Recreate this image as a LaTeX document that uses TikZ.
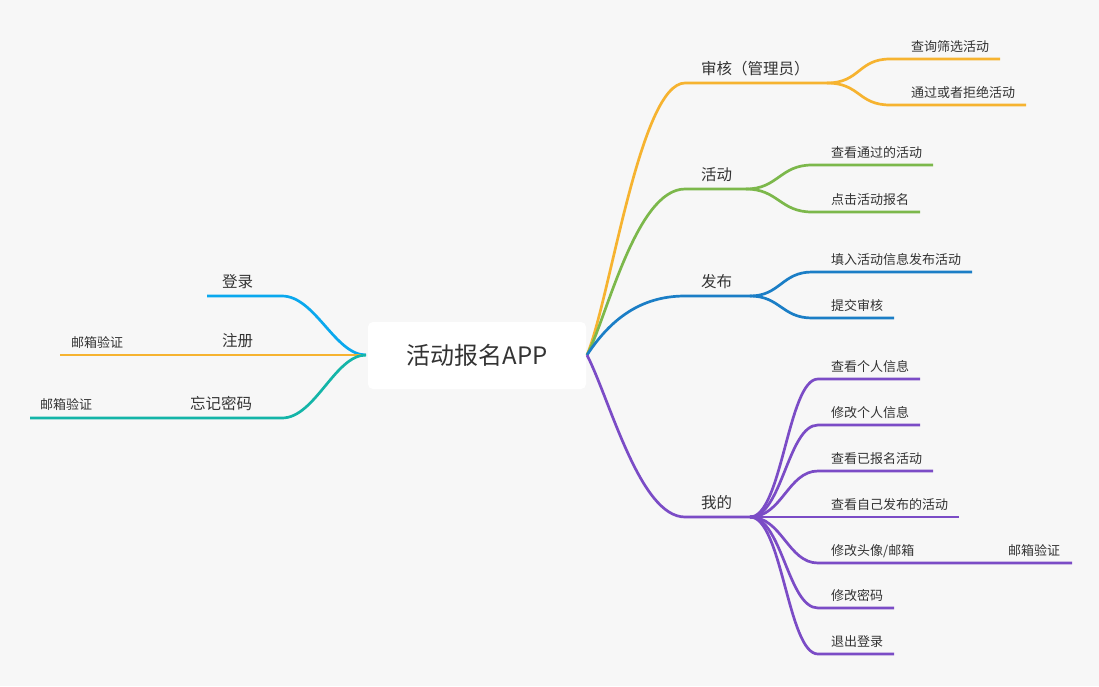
\documentclass[tikz,border=0pt]{standalone}
\usepackage{fontspec}
\setmainfont{Noto Sans CJK SC}
\definecolor{bgC}{HTML}{F7F7F7}
\definecolor{textC}{HTML}{333333}
\definecolor{orangeC}{HTML}{F6B330}
\definecolor{greenC}{HTML}{7CB84B}
\definecolor{blueC}{HTML}{1B7EC6}
\definecolor{purpleC}{HTML}{7B4CC6}
\definecolor{skyC}{HTML}{0AA8EE}
\definecolor{tealC}{HTML}{14B5A8}
\tikzset{
  branch/.style={line width=2.7pt},
  rootbox/.style={fill=white, rounded corners=5pt, minimum width=218pt, minimum height=67pt,
    text=textC, font=\fontsize{24}{28}\selectfont},
  topic/.style={anchor=base west, inner sep=0pt, text=textC, font=\fontsize{15.5}{18}\selectfont},
  subtopic/.style={anchor=base west, inner sep=0pt, text=textC, font=\fontsize{13}{15}\selectfont}
}
\begin{document}
\begin{tikzpicture}[x=1pt,y=-1pt]
\fill[bgC] (0,0) rectangle (1099,686);
\useasboundingbox (0,0) rectangle (1099,686);

\node[rootbox] (app) at (477,355.5) {活动报名APP};
\coordinate (appR) at (587,355);
\coordinate (appL) at (366,355);

% right: 审核
\coordinate (shS) at (685,83);
\coordinate (shE) at (827,83);
\node[topic] (sh) at (701,74) {审核（管理员）};
\draw[branch, orangeC] (appR) .. controls (610,300) and (640,83) .. (shS) -- (shE);
\coordinate (cxS) at (890,59);
\coordinate (cxE) at (1000,59);
\node[subtopic] (cx) at (911,51) {查询筛选活动};
\draw[branch, orangeC] (shE) .. controls (860,83) and (858,59) .. (cxS) -- (cxE);
\coordinate (tgS) at (890,105);
\coordinate (tgE) at (1026,105);
\node[subtopic] (tg) at (911,97) {通过或者拒绝活动};
\draw[branch, orangeC] (shE) .. controls (860,83) and (858,105) .. (tgS) -- (tgE);

% right: 活动
\coordinate (hdS) at (685,189);
\coordinate (hdE) at (746,189);
\node[topic] (hd) at (701,180) {活动};
\draw[branch, greenC] (appR) .. controls (606,320) and (636,189) .. (hdS) -- (hdE);
\coordinate (ckS) at (812,165);
\coordinate (ckE) at (933,165);
\node[subtopic] (ck) at (831,157) {查看通过的活动};
\draw[branch, greenC] (hdE) .. controls (778,189) and (780,165) .. (ckS) -- (ckE);
\coordinate (djS) at (812,212);
\coordinate (djE) at (920,212);
\node[subtopic] (dj) at (831,204) {点击活动报名};
\draw[branch, greenC] (hdE) .. controls (778,189) and (780,212) .. (djS) -- (djE);

% right: 发布
\coordinate (fbS) at (685,296);
\coordinate (fbE) at (750,296);
\node[topic] (fb) at (701,287) {发布};
\draw[branch, blueC] (appR) .. controls (610,320) and (640,296) .. (fbS) -- (fbE);
\coordinate (trS) at (812,272);
\coordinate (trE) at (972,272);
\node[subtopic] (tr) at (831,264) {填入活动信息发布活动};
\draw[branch, blueC] (fbE) .. controls (780,296) and (782,272) .. (trS) -- (trE);
\coordinate (tjS) at (812,318);
\coordinate (tjE) at (894,318);
\node[subtopic] (tj) at (831,310) {提交审核};
\draw[branch, blueC] (fbE) .. controls (780,296) and (782,318) .. (tjS) -- (tjE);

% right: 我的
\coordinate (wdS) at (685,517);
\coordinate (wdE) at (750,517);
\node[topic] (wd) at (701,508) {我的};
\draw[branch, purpleC] (appR) .. controls (610,400) and (640,517) .. (wdS) -- (wdE);
\foreach \yy/\xe/\txt in {379/920/查看个人信息, 425/920/修改个人信息, 471/933/查看已报名活动,
    517/959/查看自己发布的活动, 563/1072/{修改头像/邮箱}, 608/894/修改密码, 654/894/退出登录} {
  \coordinate (mS) at (818,\yy);
  \coordinate (mE) at (\xe,\yy);
  \node[subtopic] (m\yy) at (831,\yy-8) {\txt};
  \draw[branch, purpleC] (wdE) .. controls (782,517) and (788,\yy) .. (mS) -- (mE);
}
\node[subtopic] (yx3) at (1008,555) {邮箱验证};

% left: 登录
\coordinate (dlS) at (282,296);
\coordinate (dlE) at (207,296);
\node[topic] (dl) at (222,287) {登录};
\draw[branch, skyC] (appL) .. controls (335,355) and (315,296) .. (dlS) -- (dlE);

% left: 注册
\coordinate (zcE) at (178,355);
\coordinate (yx1E) at (60,355);
\node[topic] (zc) at (222,346) {注册};
\node[subtopic] (yx1) at (71,347) {邮箱验证};
\draw[branch, orangeC] (appL) -- (zcE) -- (yx1E);

% left: 忘记密码
\coordinate (wjS) at (282,418);
\coordinate (wjE) at (176,418);
\coordinate (yx2E) at (30,418);
\node[topic] (wj) at (190,409) {忘记密码};
\node[subtopic] (yx2) at (40,409) {邮箱验证};
\draw[branch, tealC] (appL) .. controls (335,355) and (315,418) .. (wjS) -- (wjE) -- (yx2E);
\end{tikzpicture}
\end{document}
